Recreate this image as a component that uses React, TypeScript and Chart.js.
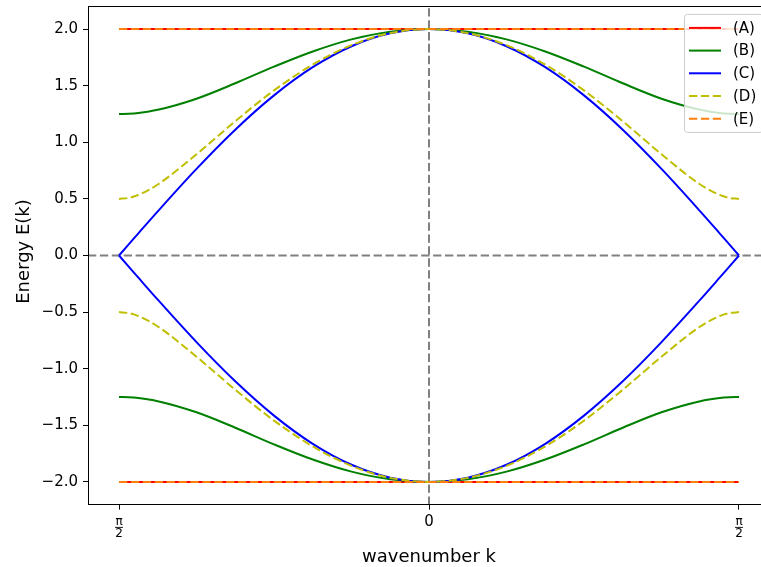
import React, { useEffect, useRef } from 'react';
import { Chart, registerables } from 'chart.js';

Chart.register(...registerables);

const FONT = '"DejaVu Sans", "Liberation Sans", sans-serif';

// Wavenumber samples over the Brillouin zone, k in [-π, π]
const kSamples = [
  -3.1416, -3.0434, -2.9452, -2.7489, -2.3562, -1.9635, -1.5708, -1.1781, -0.7854, -0.3927,
  0,
  0.3927, 0.7854, 1.1781, 1.5708, 1.9635, 2.3562, 2.7489, 2.9452, 3.0434, 3.1416,
];
const kEnds = [-3.1416, 3.1416];

// (A) flat bands
const bandAUpper = [2.0, 2.0];
const bandALower = [-2.0, -2.0];

// (B)
const bandBUpper = [
  1.25, 1.252, 1.259, 1.287, 1.385, 1.521, 1.668, 1.802, 1.909, 1.977,
  2.0,
  1.977, 1.909, 1.802, 1.668, 1.521, 1.385, 1.287, 1.259, 1.252, 1.25,
];
const bandBLower = [
  -1.25, -1.252, -1.259, -1.287, -1.385, -1.521, -1.668, -1.802, -1.909, -1.977,
  -2.0,
  -1.977, -1.909, -1.802, -1.668, -1.521, -1.385, -1.287, -1.259, -1.252, -1.25,
];

// (C) gap closes at the zone edge
const bandCUpper = [
  0, 0.098, 0.196, 0.39, 0.765, 1.111, 1.414, 1.663, 1.848, 1.962,
  2.0,
  1.962, 1.848, 1.663, 1.414, 1.111, 0.765, 0.39, 0.196, 0.098, 0,
];
const bandCLower = [
  0, -0.098, -0.196, -0.39, -0.765, -1.111, -1.414, -1.663, -1.848, -1.962,
  -2.0,
  -1.962, -1.848, -1.663, -1.414, -1.111, -0.765, -0.39, -0.196, -0.098, 0,
];

// (D)
const bandDUpper = [
  0.5, 0.509, 0.535, 0.627, 0.894, 1.186, 1.458, 1.686, 1.858, 1.964,
  2.0,
  1.964, 1.858, 1.686, 1.458, 1.186, 0.894, 0.627, 0.535, 0.509, 0.5,
];
const bandDLower = [
  -0.5, -0.509, -0.535, -0.627, -0.894, -1.186, -1.458, -1.686, -1.858, -1.964,
  -2.0,
  -1.964, -1.858, -1.686, -1.458, -1.186, -0.894, -0.627, -0.535, -0.509, -0.5,
];

// (E) flat bands
const bandEUpper = [2.0, 2.0];
const bandELower = [-2.0, -2.0];

const legendLabels = ['(A)', '(B)', '(C)', '(D)', '(E)'];

const xLimits = [-3.4558, 3.4558];
const yLimits = [-2.2, 2.2];
const xTickValues = [-3.1416, 0, 3.1416];
// stacked fractions: [numerator, denominator]; plain strings go through the axis
const xTickLabels: (string | [string, string])[] = [['π', '2'], '0', ['π', '2']];
const yTickValues = [-2, -1.5, -1, -0.5, 0, 0.5, 1, 1.5, 2];
const yTickLabels = ['−2.0', '−1.5', '−1.0', '−0.5', '0.0', '0.5', '1.0', '1.5', '2.0'];

const RED = '#ff0000';
const GREEN = '#008000';
const BLUE = '#0000ff';
const OLIVE = '#bfbf00';
const ORANGE = '#ff7f0e';
const GRAY = '#808080';
const DASH = [8.3, 3.6];
const LW = 2;

const seriesStyles = [
  { color: RED, dash: [] as number[] },
  { color: GREEN, dash: [] as number[] },
  { color: BLUE, dash: [] as number[] },
  { color: OLIVE, dash: DASH },
  { color: ORANGE, dash: DASH },
];

const pts = (xs: number[], ys: number[]) => xs.map((x, i) => ({ x, y: ys[i] }));

const overlayPlugin = {
  id: 'overlay',
  afterDraw(chart: any) {
    const { ctx, chartArea } = chart;
    const xs = chart.scales.x;
    ctx.save();

    // frame on all four sides
    ctx.strokeStyle = '#000';
    ctx.lineWidth = 1;
    ctx.strokeRect(
      Math.round(chartArea.left) + 0.5,
      Math.round(chartArea.top) + 0.5,
      Math.round(chartArea.right - chartArea.left),
      Math.round(chartArea.bottom - chartArea.top)
    );

    // stacked fraction tick labels
    xTickValues.forEach((v, i) => {
      const lab = xTickLabels[i];
      if (!Array.isArray(lab)) return;
      const px = xs.getPixelForValue(v);
      const base = chartArea.bottom;
      ctx.fillStyle = '#000';
      ctx.font = `12px ${FONT}`;
      ctx.textAlign = 'center';
      ctx.textBaseline = 'alphabetic';
      ctx.fillText(lab[0], px, base + 20.5);
      ctx.fillText(lab[1], px, base + 32.5);
      ctx.strokeStyle = '#000';
      ctx.lineWidth = 0.9;
      ctx.beginPath();
      ctx.moveTo(px - 4, base + 22.8);
      ctx.lineTo(px + 4, base + 22.8);
      ctx.stroke();
    });

    // legend box in the upper right of the axes
    const boxW = 78.5;
    const boxH = 118;
    const bx = chartArea.right - 7.5 - boxW;
    const by = chartArea.top + 7.5;
    ctx.beginPath();
    ctx.roundRect(bx + 0.5, by + 0.5, boxW, boxH, 3);
    ctx.fillStyle = 'rgba(255,255,255,0.8)';
    ctx.fill();
    ctx.strokeStyle = '#cccccc';
    ctx.lineWidth = 1;
    ctx.stroke();

    ctx.font = `15px ${FONT}`;
    ctx.textAlign = 'left';
    ctx.textBaseline = 'middle';
    legendLabels.forEach((label, i) => {
      const cy = by + 14 + i * 22.7;
      const st = seriesStyles[i];
      ctx.beginPath();
      ctx.setLineDash(st.dash);
      ctx.strokeStyle = st.color;
      ctx.lineWidth = LW;
      ctx.moveTo(bx + 5, cy);
      ctx.lineTo(bx + 37, cy);
      ctx.stroke();
      ctx.setLineDash([]);
      ctx.fillStyle = '#000';
      ctx.fillText(label, bx + 49, cy + 1);
    });

    // axis titles
    ctx.fillStyle = '#000';
    ctx.font = `18px ${FONT}`;
    ctx.textAlign = 'center';
    ctx.textBaseline = 'alphabetic';
    ctx.fillText('wavenumber k', (chartArea.left + chartArea.right) / 2, 562);

    ctx.translate(28.5, 251.5);
    ctx.rotate(-Math.PI / 2);
    ctx.fillText('Energy E(k)', 0, 0);

    ctx.restore();
  },
};

export default function App() {
  const canvasRef = useRef<HTMLCanvasElement | null>(null);

  useEffect(() => {
    const canvas = canvasRef.current;
    if (!canvas) return;

    const lineSet = (data: { x: number; y: number }[], color: string, dash: number[]) => ({
      data,
      borderColor: color,
      backgroundColor: color,
      borderWidth: LW,
      borderDash: dash,
      pointRadius: 0,
      pointHoverRadius: 0,
      fill: false,
      cubicInterpolationMode: 'monotone' as const,
    });

    const drawList = [
      lineSet(pts(xLimits, [0, 0]), GRAY, DASH),
      lineSet(pts([0, 0], yLimits), GRAY, DASH),
      lineSet(pts(kEnds, bandAUpper), RED, []),
      lineSet(pts(kEnds, bandALower), RED, []),
      lineSet(pts(kSamples, bandBUpper), GREEN, []),
      lineSet(pts(kSamples, bandBLower), GREEN, []),
      lineSet(pts(kSamples, bandCUpper), BLUE, []),
      lineSet(pts(kSamples, bandCLower), BLUE, []),
      lineSet(pts(kSamples, bandDUpper), OLIVE, DASH),
      lineSet(pts(kSamples, bandDLower), OLIVE, DASH),
      lineSet(pts(kEnds, bandEUpper), ORANGE, DASH),
      lineSet(pts(kEnds, bandELower), ORANGE, DASH),
    ];
    // later entries sit on top
    const datasets = drawList.map((d, i) => ({ ...d, order: drawList.length - i }));

    const chart = new Chart(canvas, {
      type: 'line',
      data: { datasets },
      plugins: [overlayPlugin],
      options: {
        animation: false,
        responsive: false,
        devicePixelRatio: 1,
        layout: { padding: { top: 6.4, right: 30, left: 0, bottom: 0 } },
        plugins: { legend: { display: false }, tooltip: { enabled: false } },
        events: [],
        scales: {
          x: {
            type: 'linear',
            min: xLimits[0],
            max: xLimits[1],
            border: { display: false },
            grid: {
              drawOnChartArea: false,
              drawTicks: true,
              tickLength: 5,
              color: '#000',
              lineWidth: 1,
            },
            afterBuildTicks: (scale: any) => {
              scale.ticks = xTickValues.map((value) => ({ value }));
            },
            afterFit: (scale: any) => {
              scale.height = 62.4;
              scale.paddingLeft = 0;
              scale.paddingRight = 0;
            },
            ticks: {
              padding: 4,
              color: '#000',
              maxRotation: 0,
              autoSkip: false,
              font: { family: FONT, size: 15 },
              callback: (value: any) => {
                const idx = xTickValues.indexOf(Number(value));
                const lab = idx >= 0 ? xTickLabels[idx] : '';
                return Array.isArray(lab) ? '' : lab;
              },
            },
          },
          y: {
            type: 'linear',
            min: yLimits[0],
            max: yLimits[1],
            border: { display: false },
            grid: {
              drawOnChartArea: false,
              drawTicks: true,
              tickLength: 5,
              color: '#000',
              lineWidth: 1,
            },
            afterBuildTicks: (scale: any) => {
              scale.ticks = yTickValues.map((value) => ({ value }));
            },
            afterFit: (scale: any) => {
              scale.width = 88;
              scale.paddingTop = 0;
              scale.paddingBottom = 0;
            },
            ticks: {
              padding: 5,
              color: '#000',
              autoSkip: false,
              font: { family: FONT, size: 15 },
              callback: (value: any) => {
                const idx = yTickValues.indexOf(Number(value));
                return idx >= 0 ? yTickLabels[idx] : '';
              },
            },
          },
        },
      },
    });

    return () => chart.destroy();
  }, []);

  return (
    <div
      style={{
        position: 'fixed',
        left: 0,
        top: 0,
        width: 761,
        height: 567,
        overflow: 'hidden',
        background: '#fff',
      }}
    >
      <canvas ref={canvasRef} width={800} height={567} style={{ display: 'block', width: 800, height: 567 }} />
    </div>
  );
}
